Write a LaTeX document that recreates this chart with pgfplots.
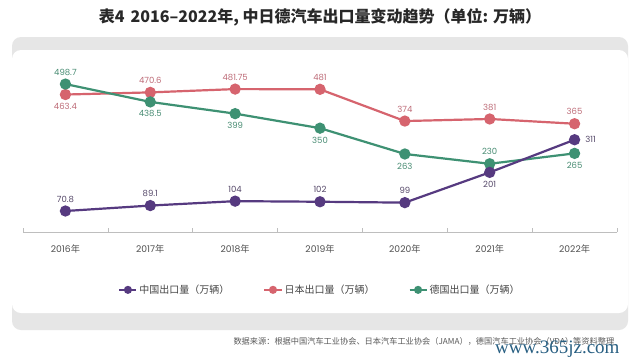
\documentclass[border=0pt]{standalone}
\usepackage{pgfplots}
\pgfplotsset{compat=1.18}
\usepackage{pgfplotstable}
\usepackage{fontspec}
\setmainfont{Poppins}
\newfontfamily\cjk{Noto Sans CJK SC}
\newfontfamily\wm{Liberation Serif}
\definecolor{cnline}{RGB}{86,58,128}
\definecolor{jpline}{RGB}{214,100,110}
\definecolor{deline}{RGB}{62,145,115}
\definecolor{cntext}{RGB}{85,72,105}
\definecolor{jptext}{RGB}{190,108,120}
\definecolor{detext}{RGB}{72,140,115}
\definecolor{framegray}{RGB}{230,230,230}
\definecolor{axisgray}{RGB}{190,190,190}

\pgfplotstableread{
x y lab dx dy
0 70.8 70.8 0 12
1 89.1 89.1 0 12
2 104 104 0 12
3 102 102 0 12
4 99 99 0 12
5 201 201 0 -12
6 311 311 16 0
}\china
\pgfplotstableread{
x y lab dx dy
0 463.4 463.4 0 -12
1 470.6 470.6 0 12
2 481.75 481.75 0 12
3 481 481 0 12
4 374 374 0 12
5 381 381 0 12
6 365 365 0 12
}\japan
\pgfplotstableread{
x y lab dx dy
0 498.7 498.7 0 12
1 438.5 438.5 0 -12
2 399 399 0 -12
3 350 350 0 -12
4 263 263 0 -12
5 230 230 0 12
6 265 265 0 -12
}\germany

\newcommand{\nian}{{\cjk 年}}

\begin{document}
\begin{tikzpicture}
\fill[white] (0pt,0pt) rectangle (640pt,-359pt);
\fill[framegray, rounded corners=9pt] (12pt,-37pt) rectangle (628pt,-330pt);
\fill[white, rounded corners=9pt] (12pt,-50pt) rectangle (628pt,-313pt);
\node[font=\cjk\bfseries\fontsize{16}{18}\selectfont, text={rgb,255:red,40;green,40;blue,40}] at (320pt,-17pt) {表4\hspace{6pt}2016–2022年, 中日德汽车出口量变动趋势（单位: 万辆）};

\begin{axis}[
  at={(23pt,-232pt)}, anchor=south west,
  scale only axis, width=594pt, height=178pt,
  xmin=-0.5, xmax=6.5, ymin=0, ymax=600,
  clip=false,
  axis y line=none,
  axis x line*=bottom,
  x axis line style={-, draw=axisgray, line width=0.8pt},
  xtick={0,...,6},
  xticklabels={2016\nian,2017\nian,2018\nian,2019\nian,2020\nian,2021\nian,2022\nian},
  major tick length=0pt,
  xticklabel style={font=\fontsize{9.2}{10}\selectfont, text={rgb,255:red,80;green,80;blue,80}, yshift=-9pt},
  extra x ticks={-0.5,0.5,1.5,2.5,3.5,4.5,5.5,6.5},
  extra x tick labels={},
  extra x tick style={major tick length=4pt, tick align=inside, tick style={draw=axisgray, line width=0.7pt}},
  point meta=explicit symbolic,
  nodes near coords={\pgfplotspointmeta},
  visualization depends on={\thisrow{dx}\as\mydx},
  visualization depends on={\thisrow{dy}\as\mydy},
  every node near coord/.append style={anchor=center, xshift=\mydx pt, yshift=\mydy pt, font=\fontsize{8.5}{10}\selectfont},
  legend style={at={(0.5,-0.325)}, anchor=center, draw=none, fill=none,
    legend columns=3, font=\cjk\fontsize{10}{12}\selectfont, text={rgb,255:red,70;green,70;blue,70},
    /tikz/every even column/.append style={column sep=32pt}},
  legend image post style={mark size=3pt},
]
\addlegendimage{cnline, line width=2pt, mark=*, mark options={fill=cnline, draw=cnline}}
\addlegendentry{中国出口量（万辆）}
\addlegendimage{jpline, line width=2pt, mark=*, mark options={fill=jpline, draw=jpline}}
\addlegendentry{日本出口量（万辆）}
\addlegendimage{deline, line width=2pt, mark=*, mark options={fill=deline, draw=deline}}
\addlegendentry{德国出口量（万辆）}

\addplot[forget plot, jpline, line width=2.2pt, mark=*, mark size=4.5pt, mark options={fill=jpline, draw=jpline},
  every node near coord/.append style={text=jptext}] table[x=x, y=y, meta=lab] {\japan};
\addplot[forget plot, deline, line width=2.2pt, mark=*, mark size=4.5pt, mark options={fill=deline, draw=deline},
  every node near coord/.append style={text=detext}] table[x=x, y=y, meta=lab] {\germany};
\addplot[forget plot, cnline, line width=2.2pt, mark=*, mark size=4.5pt, mark options={fill=cnline, draw=cnline},
  every node near coord/.append style={text=cntext}] table[x=x, y=y, meta=lab] {\china};
\end{axis}

\node[anchor=west, font=\cjk\fontsize{8.2}{9}\selectfont, text={rgb,255:red,90;green,90;blue,90}] at (230pt,-341pt) {数据来源：根据中国汽车工业协会、日本汽车工业协会（JAMA），德国汽车工业协会（VDA）等资料整理};
\node[anchor=east, font=\wm\fontsize{19}{20}\selectfont, text={rgb,255:red,40;green,95;blue,130}] at (623pt,-349pt) {www.365jz.com};
\end{tikzpicture}
\end{document}
